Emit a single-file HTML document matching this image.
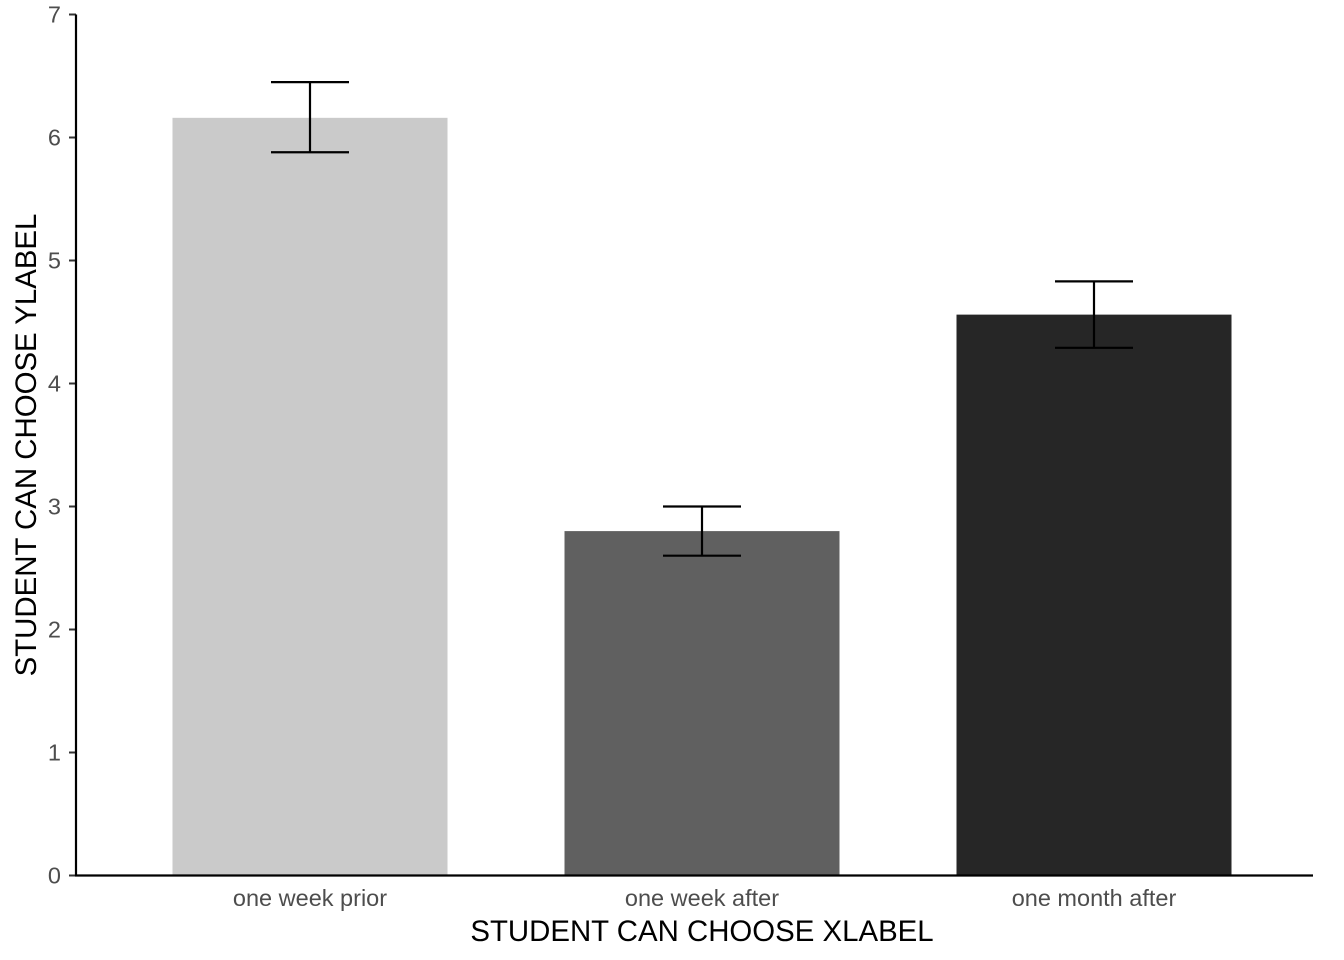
<!DOCTYPE html>
<html><head><meta charset="utf-8"><style>
html,body{margin:0;padding:0;background:#fff;}
svg{display:block;font-family:"Liberation Sans",Arial,sans-serif;}
</style></head><body>
<svg id="chart" width="1344" height="960" xmlns="http://www.w3.org/2000/svg"></svg>
<script>
const categories = ["one week prior", "one week after", "one month after"];
const means = [6.16, 2.80, 4.56];
const upper = [6.45, 3.00, 4.83];
const lower = [5.88, 2.60, 4.29];
const yTicks = [0, 1, 2, 3, 4, 5, 6, 7];
const fills = ["#cacaca", "#606060", "#262626"];

const svg = document.getElementById('chart');
const NS = 'http://www.w3.org/2000/svg';
const y0 = 875.5, yUnit = 123;
function yScale(v){ return y0 - v * yUnit; }
const xStart = 310, xStep = 392, barW = 275;
function xScale(i){ return xStart + i * xStep; }
function mk(tag, attrs){ const e = document.createElementNS(NS, tag); for (const k in attrs) e.setAttribute(k, attrs[k]); svg.appendChild(e); return e; }

categories.forEach((c, i) => {
  const cx = xScale(i);
  const r = mk('rect', {x: cx - barW/2, y: yScale(means[i]), width: barW, height: y0 - yScale(means[i]), fill: fills[i]});
  
  
  const g = mk('g', {stroke: '#000', 'stroke-width': 2.2, fill: 'none'});
  
  
  [[cx, yScale(upper[i]), cx, yScale(lower[i])], [cx-39, yScale(upper[i]), cx+39, yScale(upper[i])], [cx-39, yScale(lower[i]), cx+39, yScale(lower[i])]].forEach(l => {
    const ln = document.createElementNS(NS, 'line');
    ln.setAttribute('x1', l[0]); ln.setAttribute('y1', l[1]); ln.setAttribute('x2', l[2]); ln.setAttribute('y2', l[3]);
    g.appendChild(ln);
  });
  const t = mk('text', {x: cx, y: 906, 'text-anchor': 'middle', 'font-size': 23.5, fill: '#4d4d4d'});
  t.textContent = c;
  
  
});

yTicks.forEach(v => {
  const y = yScale(v);
  const tk = mk('line', {x1: 69, x2: 76, y1: y, y2: y, stroke: '#333', 'stroke-width': 2});
  
  
  const t = mk('text', {x: 61, y: y + 8, 'text-anchor': 'end', 'font-size': 23.5, fill: '#4d4d4d'});
  t.textContent = v;
  
  
});

const ya = mk('line', {x1: 76, x2: 76, y1: yScale(7), y2: y0 + 1, stroke: '#000', 'stroke-width': 2.2});


const xa = mk('line', {x1: 75, x2: 1313, y1: y0, y2: y0, stroke: '#000', 'stroke-width': 2.2});



const xt = mk('text', {x: 702, y: 941, 'text-anchor': 'middle', 'font-size': 29.4, fill: '#000'});
xt.textContent = 'STUDENT CAN CHOOSE XLABEL';


const yt = mk('text', {x: 0, y: 0, 'text-anchor': 'middle', 'font-size': 29.4, fill: '#000', transform: 'translate(36,445) rotate(-90)'});
yt.textContent = 'STUDENT CAN CHOOSE YLABEL';


</script>
</body></html>
